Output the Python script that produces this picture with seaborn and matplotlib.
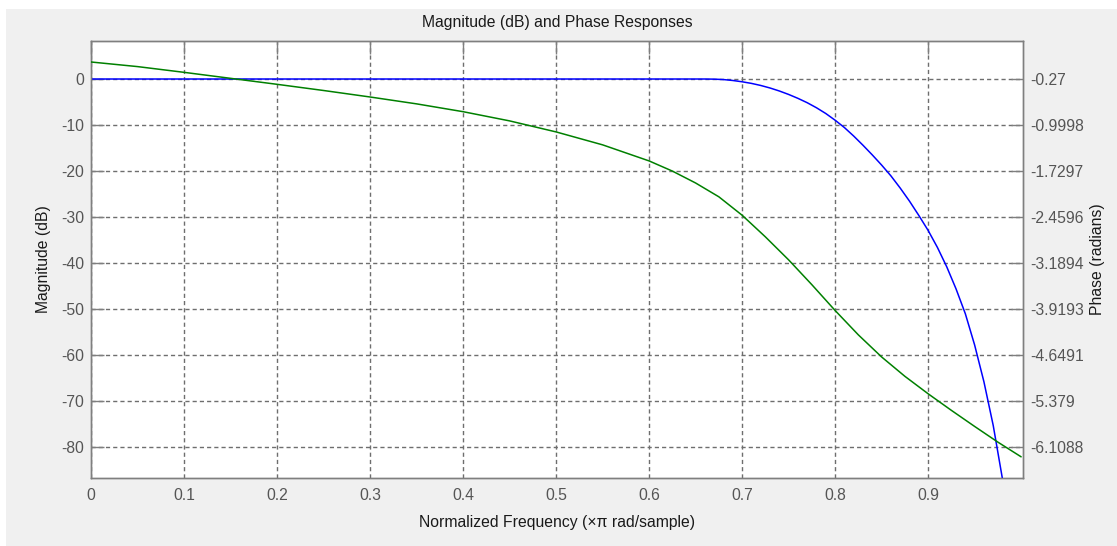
import numpy as np
import matplotlib
matplotlib.use("Agg")
import matplotlib.pyplot as plt
from matplotlib.patches import Rectangle
import seaborn as sns

# ---- data ----
mag_freq = [0.0, 0.1, 0.2, 0.3, 0.4, 0.5, 0.6, 0.65, 0.66, 0.67, 0.68, 0.69,
            0.70, 0.71, 0.72, 0.73, 0.74, 0.75, 0.76, 0.77, 0.78, 0.79, 0.80,
            0.81, 0.82, 0.83, 0.84, 0.85, 0.86, 0.87, 0.88, 0.89, 0.90, 0.91,
            0.92, 0.93, 0.94, 0.95, 0.96, 0.97, 0.98]
mag_db = [0.0, 0.0, 0.0, 0.0, 0.0, 0.0, 0.0, 0.0, 0.0, -0.03, -0.12, -0.32,
          -0.6, -0.95, -1.4, -1.95, -2.6, -3.35, -4.2, -5.15, -6.25, -7.5, -8.95,
          -10.55, -12.4, -14.4, -16.5, -18.7, -21.05, -23.7, -26.55, -29.65, -32.9, -36.6,
          -40.8, -45.6, -51.0, -57.8, -65.8, -75.3, -87.0]

phase_freq = [0.0, 0.05, 0.1, 0.15, 0.2, 0.25, 0.3, 0.35, 0.4, 0.45, 0.5,
              0.55, 0.6, 0.625, 0.65, 0.675, 0.7, 0.725, 0.75, 0.775, 0.8,
              0.825, 0.85, 0.875, 0.9, 0.925, 0.95, 0.975, 1.0]
phase_rad = [0.000, -0.073, -0.164, -0.259, -0.354, -0.452, -0.555, -0.664,
             -0.788, -0.934, -1.109, -1.314, -1.569, -1.730, -1.919, -2.138,
             -2.430, -2.773, -3.138, -3.532, -3.941, -4.328, -4.678, -4.985,
             -5.262, -5.525, -5.780, -6.029, -6.262]

x_ticks = [0.0, 0.1, 0.2, 0.3, 0.4, 0.5, 0.6, 0.7, 0.8, 0.9]
x_tick_labels = ["0", "0.1", "0.2", "0.3", "0.4", "0.5", "0.6", "0.7", "0.8", "0.9"]
mag_ticks = [0, -10, -20, -30, -40, -50, -60, -70, -80]
phase_ticks = [-0.27, -0.9998, -1.7297, -2.4596, -3.1894, -3.9193, -4.6491, -5.379, -6.1088]

# ---- style ----
sns.set_theme(style="white")
plt.rcParams["font.family"] = ["Liberation Sans", "DejaVu Sans"]
plt.rcParams["axes.unicode_minus"] = False

FS = 11.3
TICK_C = "#555555"
SPINE_C = "#7f7f7f"
GRID_C = "#6e6e6e"

fig = plt.figure(figsize=(11.17, 5.46), dpi=100, facecolor="white")
fig.patches.append(Rectangle((6 / 1117, 0), 1 - 6 / 1117, 1 - 9 / 546,
                             transform=fig.transFigure, facecolor="#f0f0f0",
                             edgecolor="none", zorder=-10))

L, R, T, B = 91, 1023, 41, 478
ax = fig.add_axes([L / 1117, 1 - B / 546, (R - L) / 1117, (B - T) / 546])
ax.set_facecolor("white")
ax2 = ax.twinx()

sns.lineplot(x=mag_freq, y=mag_db, ax=ax, color="#0000ff", linewidth=1.1,
             estimator=None, sort=False, zorder=3)
sns.lineplot(x=phase_freq, y=phase_rad, ax=ax2, color="#008000", linewidth=1.1,
             estimator=None, sort=False, zorder=3)

ymin, ymax = -86.7, 8.26
ax.set_xlim(0, 1.002)
ax.set_ylim(ymin, ymax)
# phase axis aligned so that phase ticks coincide with magnitude ticks
p0, step = -0.26994, 0.072986
ax2.set_ylim(p0 + ymin * step, p0 + ymax * step)

ax.set_xticks(x_ticks)
ax.set_xticklabels(x_tick_labels)
ax.set_yticks(mag_ticks)
ax.set_yticklabels([str(v) for v in mag_ticks])
ax2.set_yticks(phase_ticks)
ax2.set_yticklabels([f"{v:g}" for v in phase_ticks])

for a in (ax, ax2):
    for s in a.spines.values():
        s.set_color(SPINE_C)
        s.set_linewidth(1.0)
ax.tick_params(axis="both", direction="in", length=9, width=1.0, color=SPINE_C,
               labelsize=FS, labelcolor=TICK_C, top=True, right=False)
ax.tick_params(axis="x", pad=7)
ax.tick_params(axis="y", pad=5)
ax2.tick_params(axis="y", direction="in", length=9, width=1.0, color=SPINE_C,
                labelsize=FS, labelcolor=TICK_C, pad=5)

ax.grid(True, linestyle=(0, (3.0, 2.2)), color=GRID_C, linewidth=1.0)
ax.set_axisbelow(True)
ax2.grid(False)
ax.set_zorder(ax2.get_zorder() - 1)
ax.patch.set_visible(True)
ax2.patch.set_visible(False)

ax.set_title("Magnitude (dB) and Phase Responses", fontsize=FS, color="#1a1a1a", pad=10)
ax.set_xlabel("Normalized Frequency (\u00d7\u03c0 rad/sample)", fontsize=FS, color="#1a1a1a")
ax.set_ylabel("Magnitude (dB)", fontsize=FS, color="#1a1a1a")
ax2.set_ylabel("Phase (radians)", fontsize=FS, color="#1a1a1a", rotation=90)
ax.xaxis.set_label_coords(0.5, -0.085)
ax.yaxis.set_label_coords(-0.043, 0.5)
ax2.yaxis.set_label_coords(1.072, 0.5)

fig.savefig("out.png", dpi=100, facecolor=fig.get_facecolor())
